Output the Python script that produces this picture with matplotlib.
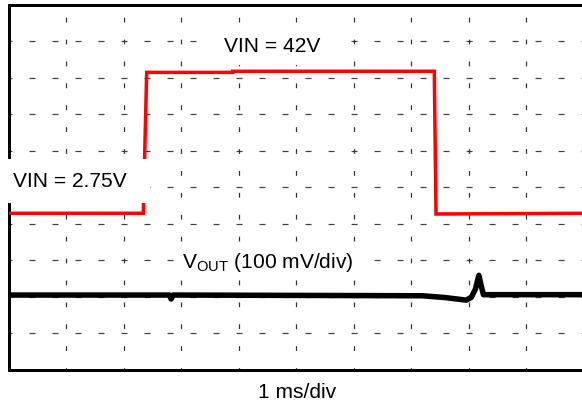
import matplotlib
matplotlib.use("Agg")
import matplotlib.pyplot as plt
from matplotlib.patches import Rectangle

plt.rcParams["font.family"] = ["Liberation Sans", "DejaVu Sans"]
plt.rcParams["mathtext.fontset"] = "custom"
plt.rcParams["mathtext.rm"] = "Liberation Sans"

# scope screen, values in divisions (10 x 10 grid)
x_vin = [0, 2.344, 2.403, 3.9, 3.9, 7.405, 7.435, 10]
y_vin = [4.28, 4.28, 8.14, 8.14, 8.17, 8.17, 4.26, 4.28]

x_vout = [0, 2.80, 2.83, 2.86, 7.2, 7.6, 7.96, 8.05, 8.12, 8.18, 8.22, 8.26, 8.35, 10]
y_vout = [2.04, 2.04, 1.93, 2.04, 2.02, 1.97, 1.90, 1.98, 2.20, 2.58, 2.30, 2.05, 2.05, 2.05]

label_vin_high = "VIN = 42V"
label_vin_low = "VIN = 2.75V"
label_vout = r"V$_{\mathrm{OUT}}$ (100 mV/div)"
label_time = "1 ms/div"

fig = plt.figure(figsize=(582 / 72, 407 / 72), dpi=72)
ax = fig.add_axes([8.5 / 582, 1 - 369.5 / 407, 575 / 582, 365 / 407])
ax.set_xlim(0, 10)
ax.set_ylim(0, 10)
ax.set_xticks([])
ax.set_yticks([])

for s in ["left", "top", "bottom"]:
    ax.spines[s].set_linewidth(3)
ax.spines["right"].set_visible(False)

# dashed graticule
for i in range(1, 10):
    ax.axhline(i, color="#404040", lw=1.2, ls=(2.5, (5, 14.17)), zorder=1)
for i in range(1, 10):
    ax.axvline(i, color="#303030", lw=1.2, ls=(2, (4, 14.25)), zorder=1)

ax.plot(x_vin, y_vin, color="#ff0000", lw=3.5, zorder=3, solid_joinstyle="miter")
ax.plot(x_vout, y_vout, color="black", lw=5.5, zorder=3)

# white label boxes
for x0, y0, w, h in [(-0.25, 4.56, 2.71, 1.21), (3.42, 8.34, 2.35, 1.02), (2.91, 2.45, 3.24, 0.93)]:
    ax.add_patch(Rectangle((x0, y0), w, h, facecolor="white", edgecolor="none",
                           zorder=4, clip_on=False))

ax.text(4.583, 8.86, label_vin_high, fontsize=21, ha="center", va="center", zorder=5)
ax.text(1.07, 5.16, label_vin_low, fontsize=21, ha="center", va="center", zorder=5,
        clip_on=False)
ax.text(4.513, 2.78, label_vout, fontsize=21, ha="center", va="baseline", zorder=5)

fig.text(297.5 / 582, 1 - 393 / 407, label_time, fontsize=21, ha="center", va="center")

fig.savefig("out.png", dpi=72)
